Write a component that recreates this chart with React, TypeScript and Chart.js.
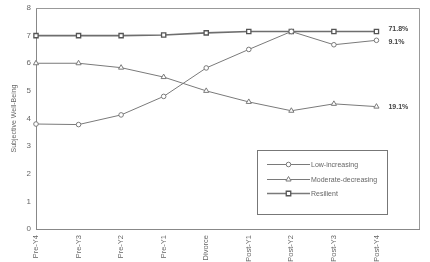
import React, { useEffect, useRef } from "react";
import { Chart, registerables } from "chart.js";
Chart.register(...registerables);

const categories = ["Pre-Y4", "Pre-Y3", "Pre-Y2", "Pre-Y1", "Divorce", "Post-Y1", "Post-Y2", "Post-Y3", "Post-Y4", ""];
const lowIncreasing = [3.8, 3.78, 4.13, 4.8, 5.83, 6.5, 7.15, 6.67, 6.83];
const moderateDecreasing = [6.0, 6.0, 5.84, 5.5, 5.0, 4.6, 4.28, 4.53, 4.43];
const resilient = [7.0, 7.0, 7.0, 7.02, 7.1, 7.15, 7.15, 7.15, 7.15];
const seriesNames = ["Low-increasing", "Moderate-decreasing", "Resilient"];
const endLabels = ["9.1%", "19.1%", "71.8%"];
const yTicks = [0, 1, 2, 3, 4, 5, 6, 7, 8];

const LINE = "#7a7a7a";
const TEXT = "#666";
const FONT = "Arial, 'Liberation Sans', sans-serif";

function marker(ctx: CanvasRenderingContext2D, kind: number, x: number, y: number, r: number) {
  ctx.beginPath();
  if (kind === 0) {
    ctx.arc(x, y, r, 0, Math.PI * 2);
  } else if (kind === 1) {
    ctx.moveTo(x, y - r);
    ctx.lineTo(x + r * 0.87, y + r * 0.5);
    ctx.lineTo(x - r * 0.87, y + r * 0.5);
    ctx.closePath();
  } else {
    ctx.rect(x - r * 0.75, y - r * 0.75, r * 1.5, r * 1.5);
  }
  ctx.fill();
  ctx.stroke();
}

export default function App() {
  const ref = useRef<HTMLCanvasElement>(null);
  useEffect(() => {
    document.body.style.margin = "0";
    const styles = [
      { pointStyle: "circle", radius: 2.3, width: 1, pbw: 1 },
      { pointStyle: "triangle", radius: 3, width: 1, pbw: 1 },
      { pointStyle: "rect", radius: 3, width: 1.6, pbw: 1.3 },
    ];
    const data = [lowIncreasing, moderateDecreasing, resilient];
    const framePlugin = {
      id: "frame",
      afterDraw(chart: any) {
        const { ctx, chartArea: a } = chart;
        ctx.save();
        ctx.strokeStyle = "#999";
        ctx.lineWidth = 1;
        ctx.beginPath();
        ctx.moveTo(a.left, a.top + 0.5);
        ctx.lineTo(a.right + 0.5, a.top + 0.5);
        ctx.lineTo(a.right + 0.5, a.bottom);
        ctx.stroke();
        ctx.fillStyle = "#444";
        ctx.font = "bold 7px " + FONT;
        ctx.textBaseline = "middle";
        ctx.textAlign = "left";
        const xs = chart.scales.x;
        const ys = chart.scales.y;
        const lastIdx = lowIncreasing.length - 1;
        const x = xs.getPixelForValue(lastIdx) + 12;
        const offs = [2, 0, -2];
        data.forEach((d, i) => {
          ctx.fillText(endLabels[i], x, ys.getPixelForValue(d[lastIdx]) + offs[i]);
        });
        const lx = 257, ly = 150, lw = 130, lh = 64;
        ctx.strokeStyle = "#777";
        ctx.lineWidth = 1;
        ctx.strokeRect(lx + 0.5, ly + 0.5, lw, lh);
        ctx.font = "7px " + FONT;
        const rows = [164, 179, 193];
        rows.forEach((ry, i) => {
          ctx.strokeStyle = LINE;
          ctx.lineWidth = styles[i].width;
          ctx.beginPath();
          ctx.moveTo(267, ry + 0.5);
          ctx.lineTo(310, ry + 0.5);
          ctx.stroke();
          ctx.fillStyle = "#fff";
          ctx.strokeStyle = i === 2 ? "#555" : LINE;
          ctx.lineWidth = styles[i].pbw;
          marker(ctx, i, 288.5, ry + 0.5, styles[i].radius);
          ctx.fillStyle = TEXT;
          ctx.fillText(seriesNames[i], 311, ry + 1);
        });
        ctx.restore();
      },
    };
    const chart = new Chart(ref.current!, {
      type: "line",
      data: {
        labels: categories,
        datasets: data.map((d, i) => ({
          label: seriesNames[i],
          data: d,
          borderColor: i === 2 ? "#6e6e6e" : LINE,
          borderWidth: styles[i].width,
          pointStyle: styles[i].pointStyle as any,
          pointRadius: styles[i].radius,
          pointBorderWidth: styles[i].pbw,
          pointBackgroundColor: "#fff",
          pointBorderColor: i === 2 ? "#555" : LINE,
          tension: 0,
        })),
      },
      options: {
        animation: false,
        responsive: false,
        layout: { padding: { top: 8, right: 5, left: 0, bottom: 0 } },
        plugins: { legend: { display: false }, tooltip: { enabled: false } },
        scales: {
          x: {
            offset: false,
            grid: { display: false, drawTicks: true, tickLength: 4, color: "#888" },
            border: { color: "#888", width: 1 },
            ticks: {
              minRotation: 90,
              maxRotation: 90,
              autoSkip: false,
              color: TEXT,
              font: { size: 7.5, family: FONT },
              padding: 2,
            },
            afterFit(scale: any) {
              scale.height = 33;
            },
          },
          y: {
            min: 0,
            max: 8,
            afterBuildTicks(scale: any) {
              scale.ticks = yTicks.map((v) => ({ value: v }));
            },
            grid: { display: false, drawTicks: true, tickLength: 3, color: "#888" },
            border: { color: "#888", width: 1 },
            ticks: { color: TEXT, font: { size: 8, family: FONT }, padding: 2 },
            title: {
              display: true,
              text: "Subjective Well-Being",
              color: TEXT,
              font: { size: 7, family: FONT },
              padding: { top: 10, bottom: 0 },
            },
            afterFit(scale: any) {
              scale.width = 36;
            },
          },
        },
      },
      plugins: [framePlugin],
    });
    return () => chart.destroy();
  }, []);
  return (
    <div style={{ width: 430, height: 262, background: "#fff" }}>
      <canvas ref={ref} width={430} height={262} />
    </div>
  );
}
